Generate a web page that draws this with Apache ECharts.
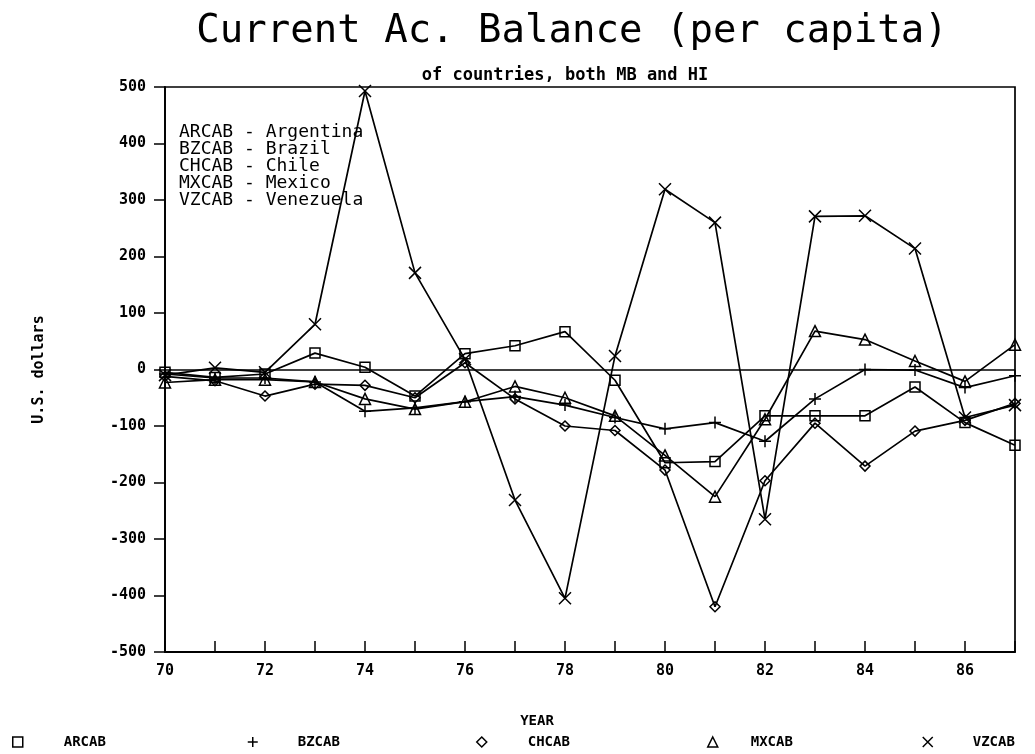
<!DOCTYPE html>
<html>
<head>
<meta charset="utf-8">
<title>Current Ac. Balance (per capita)</title>
<script src="https://cdn.jsdelivr.net/npm/echarts@6/dist/echarts.min.js"></script>
<style>
  html, body { margin: 0; padding: 0; background: #fff; }
  #chart { width: 1035px; height: 754px; }
</style>
</head>
<body>
<div id="chart"></div>
<script>
// Years 1970-1987, two-digit labels
const years = ['70','71','72','73','74','75','76','77','78','79','80','81','82','83','84','85','86','87'];

// Current account balance per capita, U.S. dollars
const ARCAB = [-5, -14, -8, 29, 4, -47, 28, 42, 67, -19, -165, -163, -82, -82, -82, -31, -94, -134];
const BZCAB = [-8, -15, -15, -22, -74, -68, -57, -48, -63, -85, -105, -94, -127, -52, 0, -1, -32, -11];
const CHCAB = [-12, -20, -47, -26, -28, -50, 12, -52, -100, -108, -178, -420, -197, -95, -171, -109, -90, -60];
const MXCAB = [-23, -18, -18, -22, -52, -70, -57, -30, -50, -82, -152, -225, -88, 68, 53, 15, -21, 44];
const VZCAB = [-10, 3, -5, 80, 493, 171, 18, -231, -405, 24, 319, 260, -265, 271, 272, 214, -85, -63];

const seriesNames = ['ARCAB', 'BZCAB', 'CHCAB', 'MXCAB', 'VZCAB'];
const seriesData = [ARCAB, BZCAB, CHCAB, MXCAB, VZCAB];

const FONT = 'DejaVu Sans Mono';

// hollow plotter-style markers
const PLUS = 'path://M5,0L5,10M0,5L10,5';
const CROSS = 'path://M0,0L10,10M10,0L0,10';
const symbols = ['rect', PLUS, 'diamond', 'triangle', CROSS];
const symbolSizes = [10, 12, 10, 11, 12];

// legend row along the bottom: icon x and text x for each entry
const legendIconX = [12, 247, 476, 707, 922];
const legendTextX = [58, 292, 522, 745, 967];

const markStyle = { color: 'transparent', borderColor: '#000', borderWidth: 1.5 };

const series = seriesNames.map((name, i) => ({
  name: name,
  type: 'line',
  data: seriesData[i],
  symbol: symbols[i],
  symbolSize: symbolSizes[i],
  showAllSymbol: true,
  lineStyle: { color: '#000', width: 1.7 },
  itemStyle: markStyle,
  emphasis: { disabled: true },
  animation: false,
  markLine: i === 0 ? {
    silent: true,
    symbol: 'none',
    label: { show: false },
    lineStyle: { color: '#000', width: 1.7, type: 'solid' },
    data: [{ yAxis: 0 }]
  } : undefined
}));

const legends = seriesNames.map((name, i) => ({
  data: [{ name: name, icon: symbols[i] }],
  left: legendIconX[i] - 5,
  top: 730,
  itemWidth: 10,
  itemHeight: 10,
  selectedMode: false,
  itemStyle: markStyle,
  textStyle: {
    fontFamily: FONT,
    fontSize: 14,
    fontWeight: 'bold',
    color: '#000',
    padding: [0, 0, 0, legendTextX[i] - (legendIconX[i] - 5) - 15]
  }
}));

const chart = echarts.init(document.getElementById('chart'), null, { renderer: 'canvas' });
chart.setOption({
  backgroundColor: '#fff',
  animation: false,
  title: [
    {
      text: 'Current Ac. Balance (per capita)',
      left: 567, top: 7, textAlign: 'center',
      textStyle: { fontFamily: FONT, fontSize: 39, fontWeight: 'normal', color: '#000' }
    },
    {
      text: 'of countries, both MB and HI',
      left: 560, top: 62, textAlign: 'center',
      textStyle: { fontFamily: FONT, fontSize: 17, fontWeight: 'bold', color: '#000' }
    }
  ],
  legend: legends,
  grid: {
    left: 165, right: 20, top: 87, bottom: 102,
    show: true, borderColor: '#000', borderWidth: 1.7, backgroundColor: 'transparent'
  },
  xAxis: {
    type: 'category',
    data: years,
    boundaryGap: false,
    name: 'YEAR',
    nameLocation: 'middle',
    nameGap: 62,
    nameTextStyle: { fontFamily: FONT, fontSize: 14, fontWeight: 'bold', color: '#000', padding: [0, 106, 0, 0] },
    axisLine: { show: true, onZero: false, lineStyle: { color: '#000', width: 1.8 } },
    axisTick: { show: true, inside: true, length: 11, interval: 0, lineStyle: { color: '#000', width: 1.5 } },
    axisLabel: { interval: 1, margin: 12, fontFamily: FONT, fontSize: 15, fontWeight: 'bold', color: '#000' },
    splitLine: { show: false }
  },
  yAxis: {
    type: 'value',
    min: -500, max: 500, interval: 100,
    name: 'U.S. dollars',
    nameLocation: 'middle',
    nameRotate: 90,
    nameGap: 118,
    nameTextStyle: { fontFamily: FONT, fontSize: 15, fontWeight: 'bold', color: '#000' },
    axisLine: { show: true, lineStyle: { color: '#000', width: 1.8 } },
    axisTick: { show: true, inside: false, length: 11, lineStyle: { color: '#000', width: 1.5 } },
    axisLabel: { margin: 19, fontFamily: FONT, fontSize: 15, fontWeight: 'bold', color: '#000' },
    splitLine: { show: false }
  },
  series: series,
  graphic: [
    {
      type: 'text',
      left: 179, top: 123,
      style: {
        text: 'ARCAB - Argentina\nBZCAB - Brazil\nCHCAB - Chile\nMXCAB - Mexico\nVZCAB - Venezuela',
        font: '18px "' + FONT + '"',
        lineHeight: 17,
        fill: '#000'
      }
    }
  ]
});
</script>
</body>
</html>
